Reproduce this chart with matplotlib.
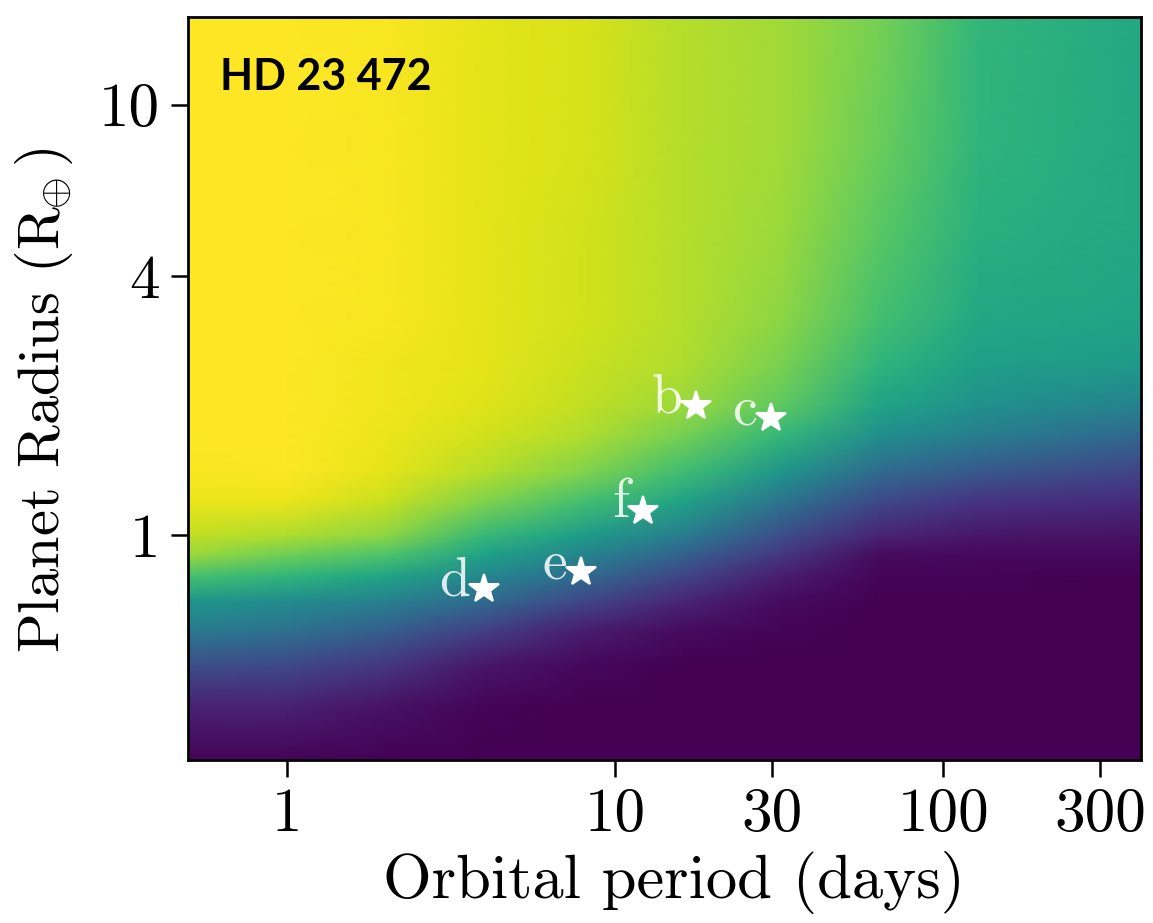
import numpy as np
import matplotlib
matplotlib.use("Agg")
import matplotlib.pyplot as plt

plt.rcParams["font.family"] = "serif"
plt.rcParams["font.serif"] = ["cmr10"]
plt.rcParams["mathtext.fontset"] = "cm"
plt.rcParams["axes.unicode_minus"] = False

# grid nodes (orbital period in days, radius in Earth radii)
periods = [0.5, 1, 2, 4, 8, 16, 32, 64, 128, 400]
radii = [0.3, 0.4, 0.5, 0.6, 0.7, 0.8, 0.9, 1.0, 1.2, 1.4, 1.7, 2.0, 2.5, 3.2, 5, 8, 16]

# probability at each node, one row per radius (bottom to top), one column per period
prob = [
    [0.01, 0.01, 0.00, 0.00, 0.00, 0.00, 0.00, 0.00, 0.00, 0.00],
    [0.09, 0.09, 0.05, 0.01, 0.00, 0.00, 0.00, 0.00, 0.00, 0.00],
    [0.24, 0.22, 0.16, 0.06, 0.02, 0.00, 0.00, 0.00, 0.00, 0.00],
    [0.41, 0.37, 0.30, 0.19, 0.08, 0.03, 0.01, 0.00, 0.00, 0.00],
    [0.52, 0.48, 0.43, 0.34, 0.21, 0.10, 0.03, 0.00, 0.00, 0.00],
    [0.70, 0.65, 0.58, 0.46, 0.34, 0.20, 0.08, 0.01, 0.01, 0.00],
    [0.85, 0.78, 0.72, 0.57, 0.45, 0.31, 0.16, 0.03, 0.02, 0.02],
    [0.91, 0.88, 0.83, 0.67, 0.55, 0.42, 0.24, 0.10, 0.06, 0.05],
    [0.97, 0.97, 0.92, 0.81, 0.70, 0.58, 0.39, 0.22, 0.15, 0.12],
    [0.99, 1.00, 0.96, 0.89, 0.81, 0.69, 0.52, 0.34, 0.27, 0.20],
    [1.00, 1.00, 0.97, 0.93, 0.88, 0.79, 0.66, 0.49, 0.42, 0.33],
    [1.00, 1.00, 0.98, 0.95, 0.91, 0.85, 0.75, 0.58, 0.50, 0.44],
    [1.00, 1.00, 0.98, 0.96, 0.92, 0.88, 0.80, 0.65, 0.56, 0.54],
    [1.00, 1.00, 0.99, 0.96, 0.93, 0.89, 0.83, 0.70, 0.60, 0.58],
    [1.00, 1.00, 0.99, 0.96, 0.93, 0.89, 0.85, 0.74, 0.63, 0.60],
    [1.00, 1.00, 0.99, 0.96, 0.94, 0.89, 0.86, 0.77, 0.65, 0.60],
    [1.00, 1.00, 0.99, 0.96, 0.94, 0.89, 0.86, 0.79, 0.66, 0.60],
]

# HD 23472 planets
planet_names = ["b", "c", "d", "e", "f"]
planet_period = [17.67, 29.80, 3.98, 7.90, 12.16]
planet_radius = [2.00, 1.87, 0.75, 0.82, 1.14]

fig = plt.figure(figsize=(11.53, 9.23), dpi=100)
ax = fig.add_axes([0.163, 0.1766, 0.8266, 0.805])

P, R = np.meshgrid(periods, radii)
ax.pcolormesh(P, R, np.array(prob), cmap="viridis", vmin=0, vmax=1,
              shading="gouraud", rasterized=True)

ax.set_xscale("log")
ax.set_yscale("log")
ax.set_xlim(0.5, 400)
ax.set_ylim(0.3, 16)

ax.plot(planet_period, planet_radius, linestyle="none", marker="*",
        markersize=22, color="white", markeredgecolor="white",
        markeredgewidth=1.5)
for name, p, r in zip(planet_names, planet_period, planet_radius):
    ax.annotate(name, (p, r), xytext=(-10, 5), textcoords="offset points",
                ha="right", va="center", fontsize=40, color="white", alpha=0.85)

ax.set_xticks([1, 10, 30, 100, 300])
ax.set_xticklabels(["1", "10", "30", "100", "300"])
ax.set_yticks([1, 4, 10])
ax.set_yticklabels(["1", "4", "10"])
ax.minorticks_off()
ax.tick_params(axis="both", which="major", direction="out", length=12,
               width=1.8, labelsize=44, pad=8)

for s in ax.spines.values():
    s.set_linewidth(2)

ax.set_xlabel("Orbital period (days)", fontsize=45)
ax.set_ylabel(r"Planet Radius ($\mathrm{R}_{\!\!\oplus}$)", fontsize=42)
ax.xaxis.set_label_coords(0.51, -0.122)
ax.yaxis.set_label_coords(-0.118, 0.485)

ax.text(0.034, 0.919, "HD 23 472", transform=ax.transAxes, ha="left",
        va="center", fontsize=31, fontweight="bold", family="Lato", color="black")

fig.savefig("out.png", dpi=100)
